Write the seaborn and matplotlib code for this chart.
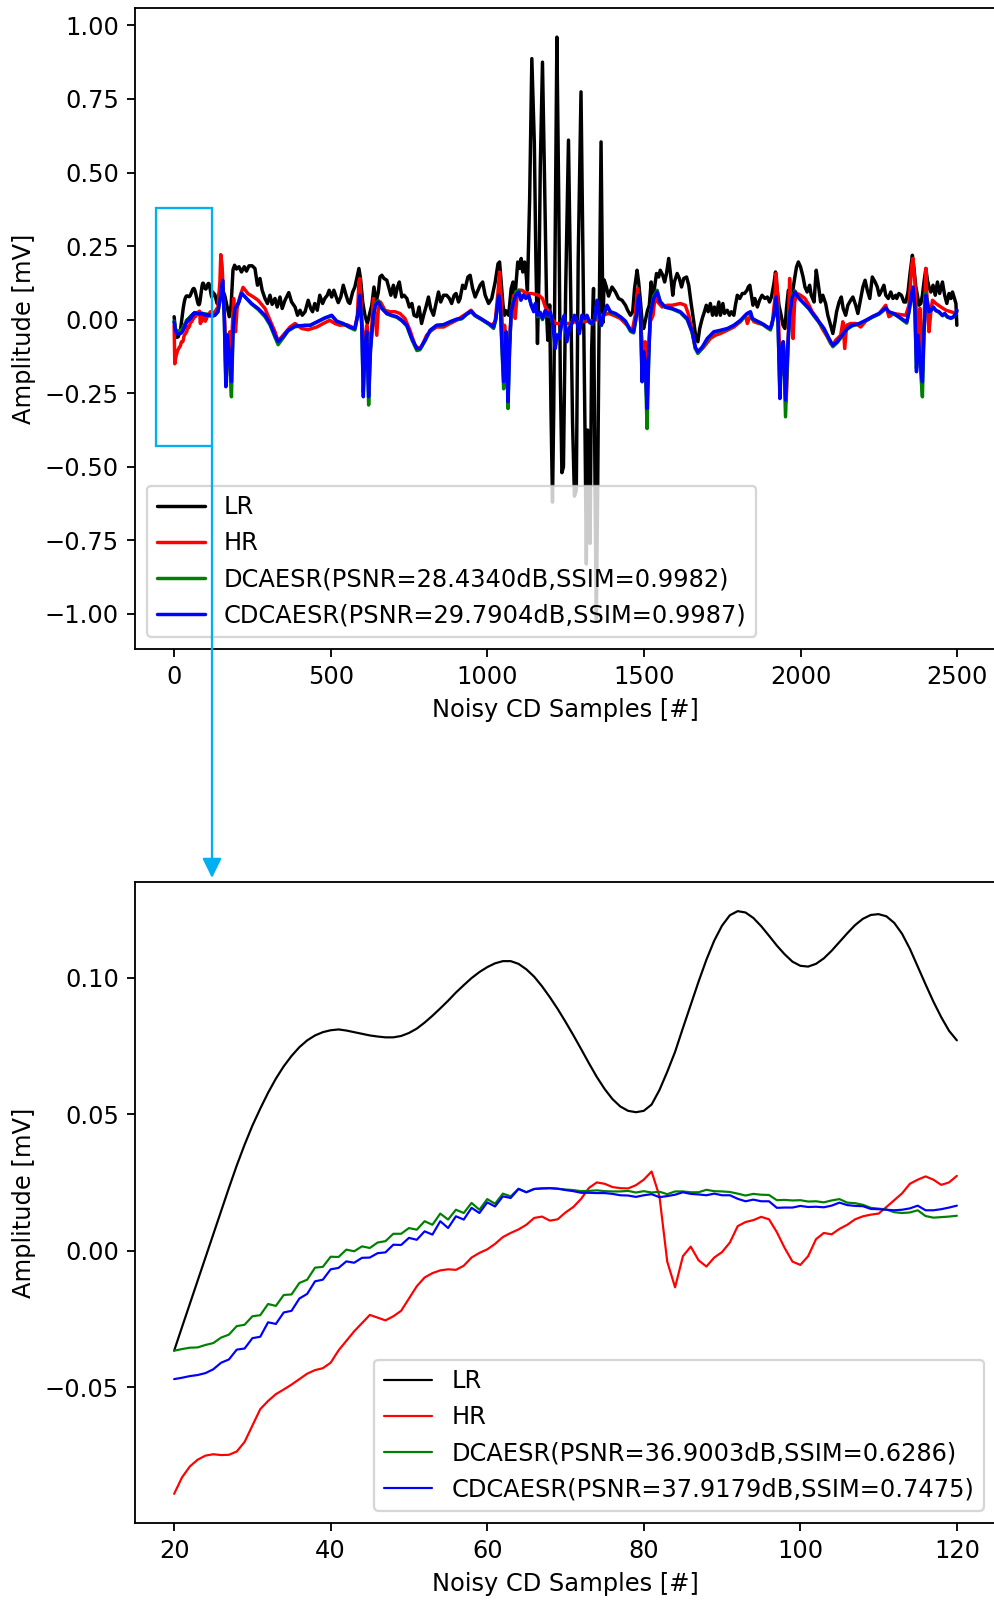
import numpy as np
import matplotlib
matplotlib.use("Agg")
import matplotlib.pyplot as plt
from matplotlib.patches import Rectangle, FancyArrowPatch
import seaborn as sns

sns.set_style("ticks", {
    "axes.edgecolor": "black", "axes.labelcolor": "black", "text.color": "black",
    "xtick.color": "black", "ytick.color": "black",
    "font.family": ["DejaVu Sans"], "font.sans-serif": ["DejaVu Sans"],
})
plt.rcParams["font.family"] = ["DejaVu Sans"]
plt.rcParams["font.size"] = 10.5

# ---------------- zoomed window: samples 20..120, one value per sample ----------------
zoom_start, zoom_stop = 20, 120

lr_zoom = [
    -0.0366, -0.0280, -0.0195, -0.0110, -0.0025, 0.0060, 0.0145, 0.0230, 0.0312, 0.0388,
    0.0458, 0.0520, 0.0578, 0.0630, 0.0675, 0.0713, 0.0745, 0.0770, 0.0788, 0.0800,
    0.0807, 0.0810, 0.0806, 0.0800, 0.0794, 0.0788, 0.0784, 0.0781, 0.0781, 0.0786,
    0.0797, 0.0813, 0.0835, 0.0860, 0.0887, 0.0915, 0.0945, 0.0972, 0.0998, 0.1020,
    0.1038, 0.1052, 0.1060, 0.1060, 0.1050, 0.1030, 0.1003, 0.0968, 0.0928, 0.0885,
    0.0838, 0.0789, 0.0738, 0.0686, 0.0636, 0.0592, 0.0555, 0.0528, 0.0512, 0.0507,
    0.0512, 0.0535, 0.0588, 0.0655, 0.0728, 0.0815, 0.0900, 0.0985, 0.1065, 0.1135,
    0.1190, 0.1228, 0.1243, 0.1238, 0.1218, 0.1188, 0.1153, 0.1117, 0.1085, 0.1058,
    0.1043, 0.1040, 0.1050, 0.1070, 0.1098, 0.1130, 0.1162, 0.1192, 0.1215, 0.1229,
    0.1232, 0.1224, 0.1200, 0.1160, 0.1105, 0.1040, 0.0975, 0.0912, 0.0855, 0.0805,
    0.0770,
]
hr_zoom = [
    -0.089, -0.083, -0.079, -0.0765, -0.075, -0.0745, -0.0748, -0.0747, -0.0735, -0.070,
    -0.064, -0.058, -0.055, -0.0525, -0.0508, -0.049, -0.047, -0.045, -0.0437, -0.043,
    -0.041, -0.0365, -0.033, -0.0295, -0.0265, -0.0235, -0.0245, -0.0255, -0.024, -0.022,
    -0.0175, -0.013, -0.0098, -0.0082, -0.0072, -0.0068, -0.0070, -0.0055, -0.0025, -0.0008,
    0.0005, 0.0025, 0.005, 0.0065, 0.0078, 0.0095, 0.012, 0.0125, 0.011, 0.0115,
    0.014, 0.016, 0.019, 0.023, 0.025, 0.0245, 0.0233, 0.0229, 0.0228, 0.024,
    0.026, 0.029, 0.020, -0.004, -0.0134, -0.002, 0.0015, -0.0035, -0.0058, -0.0025,
    -0.0005, 0.003, 0.009, 0.0105, 0.0112, 0.0124, 0.0115, 0.0068, 0.001, -0.004,
    -0.0052, -0.002, 0.0042, 0.0065, 0.006, 0.008, 0.0095, 0.0115, 0.0126, 0.0132,
    0.0136, 0.016, 0.0185, 0.021, 0.0245, 0.026, 0.0272, 0.026, 0.0241, 0.025,
    0.0274,
]
dcaesr_zoom = [
    -0.0366, -0.0360, -0.0355, -0.0354, -0.0345, -0.0338, -0.0318, -0.0307, -0.0276, -0.0271,
    -0.0240, -0.0236, -0.0195, -0.0202, -0.0162, -0.0160, -0.0118, -0.0106, -0.0062, -0.0059,
    -0.0022, -0.0023, 0.0004, -0.0002, 0.0016, 0.0010, 0.0030, 0.0035, 0.0062, 0.0062,
    0.0083, 0.0077, 0.0108, 0.0095, 0.0136, 0.0114, 0.0150, 0.0138, 0.0175, 0.0150,
    0.0189, 0.0172, 0.0209, 0.0199, 0.0227, 0.0214, 0.0226, 0.0228, 0.0229, 0.0227,
    0.0224, 0.0222, 0.0218, 0.0219, 0.0221, 0.0218, 0.0217, 0.0217, 0.0219, 0.0213,
    0.0218, 0.0213, 0.0216, 0.0207, 0.0217, 0.0217, 0.0214, 0.0214, 0.0223, 0.0218,
    0.0217, 0.0215, 0.0209, 0.0202, 0.0208, 0.0205, 0.0204, 0.0185, 0.0186, 0.0184,
    0.0185, 0.0180, 0.0181, 0.0177, 0.0184, 0.0189, 0.0176, 0.0174, 0.0168, 0.0157,
    0.0154, 0.0151, 0.0141, 0.0138, 0.0140, 0.0148, 0.0127, 0.0121, 0.0123, 0.0125,
    0.0128,
]
cdcaesr_zoom = [
    -0.0470, -0.0465, -0.0459, -0.0455, -0.0448, -0.0434, -0.0410, -0.0398, -0.0362, -0.0358,
    -0.0320, -0.0315, -0.0262, -0.0268, -0.0226, -0.0220, -0.0175, -0.0158, -0.0112, -0.0106,
    -0.0068, -0.0063, -0.0039, -0.0044, -0.0026, -0.0025, -0.0009, -0.0006, 0.0022, 0.0021,
    0.0047, 0.0040, 0.0071, 0.0059, 0.0108, 0.0083, 0.0126, 0.0114, 0.0157, 0.0138,
    0.0177, 0.0162, 0.0199, 0.0193, 0.0226, 0.0214, 0.0226, 0.0228, 0.0229, 0.0227,
    0.0222, 0.0218, 0.0212, 0.0212, 0.0211, 0.0211, 0.0208, 0.0203, 0.0202, 0.0197,
    0.0203, 0.0207, 0.0196, 0.0200, 0.0205, 0.0214, 0.0208, 0.0206, 0.0203, 0.0209,
    0.0203, 0.0203, 0.0190, 0.0181, 0.0187, 0.0181, 0.0181, 0.0157, 0.0158, 0.0158,
    0.0164, 0.0160, 0.0161, 0.0159, 0.0165, 0.0176, 0.0167, 0.0164, 0.0163, 0.0153,
    0.0152, 0.0150, 0.0148, 0.0150, 0.0155, 0.0165, 0.0148, 0.0148, 0.0152, 0.0158,
    0.0165,
]

# ---------------- full record: (sample, amplitude) before and after the window ----------------
lr_head = [(0, 0.010), (4, -0.035), (9, -0.060), (13, -0.058), (17, -0.047)]
hr_head = [(0, -0.020), (2, -0.150), (6, -0.125), (11, -0.105), (16, -0.095)]
dcaesr_head = [(0, -0.005), (4, -0.030), (9, -0.040), (14, -0.038), (18, -0.037)]
cdcaesr_head = [(0, -0.008), (4, -0.035), (9, -0.049), (14, -0.048), (18, -0.0472)]

lr_tail = [
    (122, 0.095), (130, 0.085), (137, 0.055), (143, 0.085), (152, 0.110), (162, 0.080),
    (170, 0.040), (176, 0.010), (182, 0.050), (188, 0.170), (193, 0.185), (199, 0.172),
    (207, 0.180), (215, 0.162), (224, 0.180), (231, 0.165), (239, 0.183), (249, 0.183),
    (258, 0.174), (266, 0.117), (274, 0.140), (281, 0.100), (290, 0.072), (298, 0.055),
    (306, 0.083), (313, 0.052), (322, 0.072), (329, 0.043), (338, 0.077), (345, 0.038),
    (354, 0.066), (366, 0.092), (375, 0.060), (386, 0.043), (394, 0.015), (402, 0.032),
    (409, 0.015), (418, 0.027), (428, 0.066), (436, 0.038), (442, 0.027), (449, 0.055),
    (457, 0.032), (465, 0.083), (474, 0.055), (481, 0.072), (489, 0.083), (495, 0.100),
    (503, 0.077), (510, 0.100), (519, 0.072), (524, 0.058), (532, 0.077), (540, 0.117),
    (549, 0.083), (556, 0.060), (561, 0.055), (570, 0.094), (577, 0.111), (583, 0.140),
    (590, 0.174), (595, 0.140), (602, 0.060), (609, 0.015), (617, -0.013), (623, 0.015),
    (631, 0.049), (638, 0.111), (645, 0.060), (652, 0.094), (657, 0.145), (663, 0.151),
    (670, 0.140), (679, 0.134), (686, 0.106), (692, 0.083), (700, 0.117), (706, 0.077),
    (713, 0.111), (719, 0.128), (727, 0.077), (734, 0.083), (743, 0.072), (751, 0.043),
    (759, 0.055), (766, 0.015), (775, 0.010), (782, 0.043), (790, -0.013), (798, 0.021),
    (804, 0.043), (812, 0.077), (819, 0.038), (828, 0.015), (836, 0.055), (844, 0.094),
    (851, 0.060), (860, 0.083), (870, 0.083), (879, 0.072), (886, 0.055), (894, 0.083),
    (900, 0.089), (908, 0.060), (913, 0.072), (921, 0.117), (929, 0.106), (938, 0.145),
    (945, 0.151), (953, 0.106), (961, 0.077), (970, 0.100), (977, 0.117), (985, 0.128),
    (993, 0.083), (1004, 0.055), (1014, 0.072), (1025, 0.128), (1034, 0.190), (1039, 0.196),
    (1044, 0.128), (1050, 0.049), (1055, 0.015), (1060, 0.030), (1068, 0.015), (1076, 0.106),
    (1082, 0.128), (1087, 0.060), (1092, 0.128), (1097, 0.196), (1103, 0.174), (1108, 0.208),
    (1113, 0.162), (1119, 0.196), (1124, 0.151), (1128, 0.100), (1135, 0.410), (1142, 0.887),
    (1150, 0.600), (1155, 0.200), (1160, -0.081), (1165, 0.150), (1169, 0.519), (1176, 0.875),
    (1183, 0.450), (1190, 0.000), (1193, -0.070), (1199, 0.050), (1203, -0.300), (1208, -0.620),
    (1212, -0.300), (1217, 0.350), (1222, 0.960), (1228, 0.400), (1233, -0.200), (1238, -0.520),
    (1243, -0.500), (1250, 0.100), (1259, 0.610), (1266, 0.100), (1272, -0.350), (1278, -0.600),
    (1284, -0.580), (1290, 0.200), (1299, 0.774), (1306, 0.150), (1312, -0.400), (1316, -0.830),
    (1320, -0.375), (1324, -0.550), (1328, -0.760), (1333, -0.100), (1339, 0.106), (1344, -0.600),
    (1348, -1.020), (1352, -0.600), (1356, -0.100), (1363, 0.604), (1369, -0.010), (1373, 0.135),
    (1380, 0.111), (1387, 0.080), (1398, 0.111), (1409, 0.094), (1419, 0.072), (1430, 0.066),
    (1441, 0.049), (1448, 0.032), (1457, 0.015), (1464, 0.027), (1470, 0.106), (1478, 0.168),
    (1483, 0.128), (1489, 0.060), (1494, -0.007), (1499, -0.030), (1505, 0.000), (1511, 0.030),
    (1517, 0.049), (1523, 0.128), (1528, 0.060), (1534, 0.111), (1540, 0.157), (1547, 0.145),
    (1552, 0.168), (1560, 0.151), (1566, 0.128), (1572, 0.157), (1579, 0.208), (1587, 0.134),
    (1592, 0.083), (1597, 0.128), (1606, 0.157), (1613, 0.140), (1620, 0.111), (1627, 0.140),
    (1636, 0.145), (1643, 0.117), (1650, 0.060), (1659, -0.007), (1666, -0.064), (1672, -0.075),
    (1678, -0.030), (1686, 0.004), (1693, 0.027), (1699, 0.049), (1705, 0.027), (1712, 0.055),
    (1719, 0.015), (1725, 0.043), (1731, 0.015), (1739, 0.060), (1744, 0.015), (1752, 0.055),
    (1757, 0.021), (1766, 0.032), (1773, 0.015), (1779, 0.027), (1787, 0.015), (1792, 0.049),
    (1798, 0.083), (1806, 0.072), (1814, 0.089), (1821, 0.089), (1829, 0.100), (1833, 0.111),
    (1838, 0.117), (1843, 0.083), (1848, 0.049), (1854, 0.072), (1862, 0.043), (1869, 0.066),
    (1877, 0.083), (1886, 0.072), (1894, 0.077), (1901, 0.060), (1907, 0.077), (1915, 0.123),
    (1920, 0.162), (1925, 0.106), (1931, 0.049), (1938, 0.015), (1944, -0.019), (1950, -0.030),
    (1955, 0.038), (1961, 0.100), (1968, 0.049), (1973, 0.083), (1981, 0.140), (1987, 0.179),
    (1993, 0.196), (2000, 0.179), (2008, 0.145), (2014, 0.111), (2021, 0.094), (2029, 0.117),
    (2034, 0.083), (2043, 0.060), (2050, 0.168), (2057, 0.117), (2064, 0.060), (2071, 0.083),
    (2080, 0.055), (2087, 0.015), (2096, -0.019), (2103, -0.047), (2110, -0.007), (2115, 0.027),
    (2123, 0.060), (2130, 0.077), (2136, 0.038), (2144, 0.015), (2151, 0.049), (2160, 0.066),
    (2167, 0.077), (2176, 0.049), (2183, 0.021), (2192, 0.072), (2199, 0.111), (2206, 0.134),
    (2213, 0.100), (2221, 0.072), (2229, 0.145), (2238, 0.128), (2245, 0.111), (2251, 0.083),
    (2259, 0.100), (2266, 0.117), (2272, 0.083), (2280, 0.072), (2288, 0.094), (2295, 0.072),
    (2304, 0.083), (2307, 0.072), (2314, 0.089), (2322, 0.083), (2330, 0.060), (2336, 0.060),
    (2343, 0.094), (2350, 0.162), (2357, 0.219), (2362, 0.174), (2368, 0.111), (2373, 0.083),
    (2378, 0.049), (2384, 0.055), (2389, 0.083), (2394, 0.128), (2400, 0.174), (2405, 0.134),
    (2410, 0.111), (2416, 0.094), (2423, 0.117), (2430, 0.083), (2437, 0.128), (2444, 0.089),
    (2453, 0.128), (2460, 0.083), (2467, 0.055), (2474, 0.089), (2480, 0.072), (2485, 0.094),
    (2490, 0.077), (2496, 0.055), (2499, -0.019),
]

hr_tail = [
    (122, 0.012), (130, 0.027), (140, 0.043), (146, 0.128), (149, 0.221), (153, 0.185),
    (158, 0.072), (162, -0.019), (167, -0.190), (172, -0.130), (178, -0.041), (181, -0.188),
    (186, -0.019), (190, 0.072), (196, -0.041), (201, 0.038), (210, 0.078), (220, 0.110),
    (236, 0.088), (252, 0.078), (268, 0.066), (290, 0.038), (306, -0.002), (322, -0.041),
    (332, -0.073), (348, -0.053), (370, -0.025), (386, -0.013), (407, -0.030), (428, -0.034),
    (455, -0.025), (476, -0.013), (497, -0.002), (513, -0.013), (529, -0.019), (551, -0.017),
    (567, -0.025), (577, -0.030), (585, 0.015), (590, 0.128), (593, 0.140), (599, 0.015),
    (604, -0.121), (609, -0.064), (615, -0.019), (620, -0.053), (625, -0.132), (631, -0.020),
    (636, 0.072), (641, 0.015), (647, -0.053), (652, 0.038), (659, 0.060), (673, 0.032),
    (689, 0.027), (705, 0.027), (721, 0.021), (737, 0.004), (753, -0.036), (769, -0.087),
    (780, -0.098), (790, -0.092), (806, -0.053), (822, -0.036), (838, -0.025), (860, -0.025),
    (881, -0.013), (902, -0.002), (918, 0.010), (934, 0.021), (948, 0.032), (961, 0.015),
    (977, 0.004), (993, -0.007), (1014, -0.019), (1025, -0.007), (1034, 0.094), (1039, 0.162),
    (1044, 0.072), (1050, -0.075), (1055, -0.019), (1060, -0.064), (1066, -0.155), (1071, -0.075),
    (1076, 0.015), (1084, 0.083), (1089, 0.004), (1094, 0.072), (1100, 0.100), (1110, 0.100),
    (1126, 0.089), (1142, 0.089), (1164, 0.083), (1176, 0.072), (1185, 0.043), (1196, 0.027),
    (1206, 0.004), (1217, -0.013), (1238, -0.013), (1259, -0.013), (1281, -0.007), (1302, -0.007),
    (1323, -0.005), (1345, -0.002), (1366, 0.015), (1387, 0.021), (1403, 0.015), (1425, 0.004),
    (1446, -0.019), (1462, -0.041), (1472, 0.015), (1480, 0.106), (1486, 0.038), (1494, -0.075),
    (1499, -0.177), (1504, -0.075), (1510, -0.245), (1515, -0.098), (1520, -0.007), (1529, 0.015),
    (1536, 0.083), (1544, 0.060), (1558, 0.043), (1574, 0.049), (1590, 0.049), (1616, 0.055),
    (1632, 0.049), (1643, 0.015), (1654, -0.041), (1664, -0.098), (1675, -0.109), (1691, -0.093),
    (1712, -0.064), (1728, -0.053), (1744, -0.047), (1766, -0.036), (1787, -0.025), (1808, -0.007),
    (1824, 0.015), (1830, -0.013), (1840, 0.015), (1851, -0.007), (1867, -0.013), (1883, -0.017),
    (1899, -0.030), (1909, -0.019), (1918, 0.072), (1922, 0.157), (1928, 0.060), (1933, -0.109),
    (1938, -0.188), (1944, -0.075), (1949, -0.121), (1954, -0.279), (1960, -0.098), (1965, 0.140),
    (1970, 0.038), (1976, -0.064), (1981, 0.060), (1989, 0.089), (2000, 0.083), (2014, 0.072),
    (2027, 0.049), (2037, 0.027), (2053, 0.004), (2069, -0.030), (2085, -0.058), (2096, -0.081),
    (2103, -0.087), (2112, -0.070), (2128, -0.053), (2135, -0.007), (2141, -0.098), (2147, -0.019),
    (2160, -0.013), (2176, -0.013), (2192, -0.025), (2208, -0.005), (2229, 0.010), (2251, 0.021),
    (2272, 0.049), (2282, 0.010), (2298, 0.021), (2320, 0.017), (2336, 0.015), (2346, 0.049),
    (2355, 0.185), (2359, 0.208), (2365, 0.128), (2370, 0.015), (2375, -0.075), (2381, 0.038),
    (2386, -0.121), (2389, -0.177), (2394, -0.019), (2400, 0.174), (2405, 0.038), (2410, -0.041),
    (2416, 0.027), (2421, 0.066), (2432, 0.055), (2448, 0.043), (2464, 0.032), (2480, 0.027),
    (2496, 0.021), (2499, 0.027),
]

dcaesr_tail = [
    (122, 0.012), (130, 0.015), (140, 0.027), (149, 0.083), (155, 0.125), (160, 0.010),
    (165, -0.200), (170, -0.050), (176, -0.130), (183, -0.262), (188, -0.045), (194, 0.035),
    (199, 0.045), (207, 0.062), (215, 0.092), (226, 0.078), (247, 0.053), (268, 0.035),
    (290, 0.010), (306, -0.018), (322, -0.060), (332, -0.085), (348, -0.062), (364, -0.038),
    (386, -0.024), (418, -0.020), (434, -0.020), (460, -0.006), (481, 0.005), (503, 0.013),
    (519, -0.006), (540, -0.015), (561, -0.027), (577, -0.035), (586, 0.012), (593, 0.080),
    (599, -0.020), (604, -0.245), (609, -0.100), (615, -0.045), (621, -0.290), (627, -0.100),
    (636, 0.015), (643, 0.055), (652, 0.065), (663, 0.040), (679, 0.020), (695, 0.013),
    (711, 0.008), (727, -0.004), (743, -0.022), (759, -0.068), (775, -0.105), (785, -0.102),
    (801, -0.072), (817, -0.038), (838, -0.020), (860, -0.018), (881, -0.008), (902, 0.000),
    (918, 0.003), (934, 0.018), (948, 0.027), (961, 0.013), (982, 0.000), (1004, -0.015),
    (1020, -0.030), (1027, 0.000), (1036, 0.080), (1041, 0.055), (1046, -0.080), (1052, -0.235),
    (1057, -0.100), (1060, -0.045), (1066, -0.302), (1071, -0.100), (1076, 0.030), (1084, 0.065),
    (1091, 0.095), (1100, 0.100), (1107, 0.075), (1116, 0.085), (1123, 0.075), (1132, 0.080),
    (1140, 0.050), (1148, 0.030), (1153, 0.050), (1160, 0.010), (1169, 0.020), (1176, 0.000),
    (1185, 0.028), (1193, 0.012), (1201, 0.022), (1208, -0.010), (1217, -0.090), (1222, -0.050),
    (1230, -0.060), (1238, -0.005), (1246, 0.012), (1254, -0.065), (1262, -0.025), (1270, -0.010),
    (1278, 0.012), (1286, -0.005), (1294, -0.040), (1302, 0.012), (1311, 0.002), (1318, 0.012),
    (1326, -0.010), (1334, -0.015), (1343, 0.002), (1350, 0.060), (1357, 0.012), (1364, -0.020),
    (1371, 0.012), (1382, 0.045), (1393, 0.025), (1409, 0.018), (1425, 0.008), (1441, -0.008),
    (1457, -0.040), (1467, -0.045), (1476, 0.012), (1483, 0.078), (1489, 0.010), (1494, -0.200),
    (1499, -0.110), (1504, -0.150), (1510, -0.370), (1515, -0.140), (1520, 0.015), (1531, 0.080),
    (1542, 0.100), (1552, 0.062), (1568, 0.042), (1590, 0.036), (1616, 0.024), (1638, 0.000),
    (1654, -0.045), (1664, -0.098), (1672, -0.115), (1686, -0.098), (1702, -0.068), (1723, -0.043),
    (1744, -0.038), (1766, -0.032), (1787, -0.021), (1808, -0.004), (1829, 0.019), (1840, 0.025),
    (1846, 0.002), (1862, -0.007), (1877, -0.015), (1894, -0.028), (1904, -0.035), (1915, 0.012),
    (1922, 0.072), (1928, -0.010), (1934, -0.250), (1939, -0.100), (1945, -0.080), (1952, -0.330),
    (1959, -0.100), (1965, 0.015), (1973, 0.078), (1982, 0.098), (1995, 0.074), (2011, 0.055),
    (2027, 0.036), (2043, 0.012), (2059, -0.010), (2075, -0.033), (2091, -0.068), (2103, -0.092),
    (2117, -0.078), (2133, -0.055), (2149, -0.032), (2165, -0.021), (2187, -0.015), (2208, -0.004),
    (2229, 0.008), (2251, 0.019), (2272, 0.038), (2282, 0.025), (2298, 0.019), (2314, 0.008),
    (2330, -0.005), (2339, -0.012), (2346, 0.025), (2354, 0.080), (2359, 0.105), (2365, 0.035),
    (2370, -0.165), (2375, -0.055), (2381, -0.140), (2389, -0.262), (2394, -0.045), (2400, 0.090),
    (2405, 0.062), (2410, 0.025), (2416, 0.030), (2424, 0.040), (2432, 0.030), (2442, 0.025),
    (2453, 0.013), (2460, 0.019), (2469, 0.008), (2480, 0.004), (2488, 0.008), (2496, 0.019),
    (2499, 0.030),
]

cdcaesr_tail = [
    (122, 0.012), (130, 0.015), (140, 0.027), (149, 0.083), (155, 0.134), (160, 0.015),
    (165, -0.228), (170, -0.053), (176, -0.121), (183, -0.211), (188, -0.041), (194, 0.038),
    (199, 0.045), (207, 0.060), (215, 0.089), (226, 0.078), (247, 0.055), (268, 0.038),
    (290, 0.015), (306, -0.013), (322, -0.053), (332, -0.075), (348, -0.058), (364, -0.036),
    (386, -0.022), (418, -0.019), (434, -0.019), (460, -0.005), (481, 0.006), (503, 0.015),
    (519, -0.005), (540, -0.013), (561, -0.025), (577, -0.030), (586, 0.015), (593, 0.083),
    (599, -0.019), (604, -0.262), (609, -0.098), (615, -0.041), (621, -0.262), (627, -0.098),
    (636, 0.015), (643, 0.049), (652, 0.060), (663, 0.038), (679, 0.021), (695, 0.015),
    (711, 0.010), (727, -0.002), (743, -0.019), (759, -0.064), (775, -0.098), (785, -0.098),
    (801, -0.070), (817, -0.036), (838, -0.019), (860, -0.017), (881, -0.007), (902, 0.002),
    (918, 0.004), (934, 0.019), (948, 0.029), (961, 0.015), (982, 0.002), (1004, -0.013),
    (1020, -0.025), (1027, 0.004), (1036, 0.083), (1041, 0.060), (1046, -0.075), (1052, -0.211),
    (1057, -0.098), (1060, -0.041), (1066, -0.279), (1071, -0.098), (1076, 0.027), (1084, 0.060),
    (1091, 0.083), (1100, 0.094), (1107, 0.066), (1116, 0.083), (1123, 0.072), (1132, 0.083),
    (1140, 0.049), (1148, 0.027), (1153, 0.055), (1160, 0.015), (1169, 0.025), (1176, 0.004),
    (1185, 0.032), (1193, 0.015), (1201, 0.027), (1208, -0.007), (1217, -0.098), (1222, -0.053),
    (1230, -0.064), (1238, -0.007), (1246, 0.015), (1254, -0.075), (1262, -0.030), (1270, -0.013),
    (1278, 0.015), (1286, -0.007), (1294, -0.047), (1302, 0.015), (1311, 0.004), (1318, 0.015),
    (1326, -0.007), (1334, -0.013), (1343, 0.004), (1350, 0.066), (1357, 0.015), (1364, -0.019),
    (1371, 0.015), (1382, 0.049), (1393, 0.027), (1409, 0.021), (1425, 0.010), (1441, -0.005),
    (1457, -0.036), (1467, -0.041), (1476, 0.015), (1483, 0.083), (1489, 0.015), (1494, -0.211),
    (1499, -0.109), (1504, -0.143), (1510, -0.302), (1515, -0.132), (1520, 0.015), (1531, 0.072),
    (1542, 0.094), (1552, 0.060), (1568, 0.043), (1590, 0.038), (1616, 0.027), (1638, 0.004),
    (1654, -0.041), (1664, -0.093), (1672, -0.109), (1686, -0.093), (1702, -0.064), (1723, -0.041),
    (1744, -0.036), (1766, -0.030), (1787, -0.019), (1808, -0.002), (1829, 0.021), (1840, 0.027),
    (1846, 0.004), (1862, -0.005), (1877, -0.013), (1894, -0.025), (1904, -0.030), (1915, 0.015),
    (1922, 0.077), (1928, -0.007), (1934, -0.268), (1939, -0.098), (1945, -0.075), (1952, -0.273),
    (1959, -0.098), (1965, 0.015), (1973, 0.072), (1982, 0.094), (1995, 0.072), (2011, 0.055),
    (2027, 0.038), (2043, 0.015), (2059, -0.007), (2075, -0.030), (2091, -0.064), (2103, -0.087),
    (2117, -0.075), (2133, -0.053), (2149, -0.030), (2165, -0.019), (2187, -0.013), (2208, -0.002),
    (2229, 0.010), (2251, 0.021), (2272, 0.040), (2282, 0.027), (2298, 0.021), (2314, 0.010),
    (2330, -0.002), (2339, -0.007), (2346, 0.027), (2354, 0.083), (2359, 0.111), (2365, 0.038),
    (2370, -0.177), (2375, -0.053), (2381, -0.132), (2389, -0.211), (2394, -0.041), (2400, 0.083),
    (2405, 0.060), (2410, 0.027), (2416, 0.032), (2424, 0.043), (2432, 0.032), (2442, 0.027),
    (2453, 0.015), (2460, 0.021), (2469, 0.010), (2480, 0.006), (2488, 0.010), (2496, 0.021),
    (2499, 0.033),
]

series_labels_full = [
    "LR", "HR",
    "DCAESR(PSNR=28.4340dB,SSIM=0.9982)",
    "CDCAESR(PSNR=29.7904dB,SSIM=0.9987)",
]
series_labels_zoom = [
    "LR", "HR",
    "DCAESR(PSNR=36.9003dB,SSIM=0.6286)",
    "CDCAESR(PSNR=37.9179dB,SSIM=0.7475)",
]
series_colors = ["black", "red", "green", "blue"]
x_label = "Noisy CD Samples [#]"
y_label = "Amplitude [mV]"
highlight = "#00B0F0"

zoom_x = np.arange(zoom_start, zoom_stop + 1)


def full_record(head, zoom, tail):
    h = np.array(head, dtype=float)
    t = np.array(tail, dtype=float)
    xs = np.concatenate([h[:, 0], zoom_x, t[:, 0]])
    ys = np.concatenate([h[:, 1], np.array(zoom, dtype=float), t[:, 1]])
    return xs, ys


full = [
    full_record(lr_head, lr_zoom, lr_tail),
    full_record(hr_head, hr_zoom, hr_tail),
    full_record(dcaesr_head, dcaesr_zoom, dcaesr_tail),
    full_record(cdcaesr_head, cdcaesr_zoom, cdcaesr_tail),
]
zoomed = [lr_zoom, hr_zoom, dcaesr_zoom, cdcaesr_zoom]

W, H, DPI = 994, 1601, 165
fig = plt.figure(figsize=(W / DPI, H / DPI), dpi=DPI)
ax_top = fig.add_axes([135 / W, 1 - 649 / H, 861 / W, 641 / H])
ax_bot = fig.add_axes([135 / W, 1 - 1523 / H, 861 / W, 641 / H])

for (xs, ys), lab, col in zip(full, series_labels_full, series_colors):
    sns.lineplot(x=xs, y=ys, ax=ax_top, color=col, lw=1.5, label=lab,
                 estimator=None, sort=False)
for ys, lab, col in zip(zoomed, series_labels_zoom, series_colors):
    sns.lineplot(x=zoom_x, y=ys, ax=ax_bot, color=col, lw=0.95, label=lab,
                 estimator=None, sort=False)

for ax in (ax_top, ax_bot):
    ax.set_xlabel(x_label)
    ax.set_ylabel(y_label)
    for side in ("top", "right", "left", "bottom"):
        ax.spines[side].set_linewidth(0.8)
        ax.spines[side].set_color("black")
    ax.tick_params(direction="out", length=3.5, width=0.8)

ax_top.set_yticks(np.arange(-1.0, 1.01, 0.25))
ax_top.legend(loc="lower left")
ax_bot.legend(loc="lower right")

# highlight box around the zoomed window and the arrow pointing to the lower panel
fig.add_artist(Rectangle((156 / W, 1 - 446 / H), 56 / W, 238 / H, transform=fig.transFigure,
                         fill=False, edgecolor=highlight, linewidth=1.0))
fig.add_artist(FancyArrowPatch((212 / W, 1 - 446 / H), (212 / W, 1 - 878 / H),
                               transform=fig.transFigure, arrowstyle="-|>,head_length=0.45,head_width=0.22",
                               mutation_scale=16, color=highlight, linewidth=1.0,
                               shrinkA=0, shrinkB=0))

fig.savefig("out.png", dpi=DPI)
